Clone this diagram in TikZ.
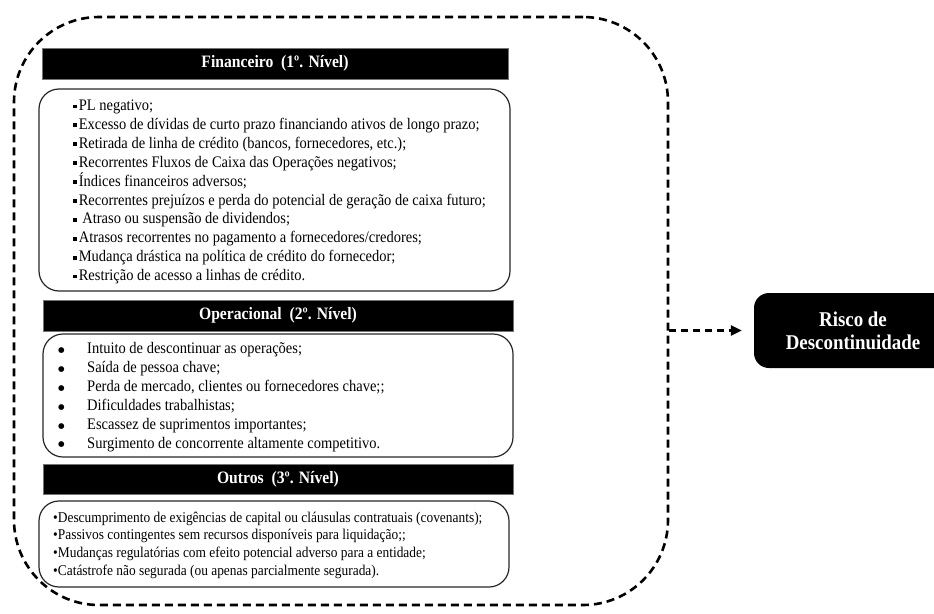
\documentclass[tikz,border=0pt]{standalone}
\usepackage{fontspec}
\setmainfont[FakeStretch=0.9]{Liberation Serif}
\newfontfamily\dejavu{DejaVu Sans}
\usetikzlibrary{arrows.meta}
\newcommand{\sqb}{\rule[2.2pt]{3.8pt}{3.8pt}\hspace{1.8pt}}
\newcommand{\rb}{\makebox[30pt][l]{\hspace{1pt}{\dejavu\fontsize{7.5}{8}\selectfont\raisebox{1.2pt}{●}}}}
\newcommand{\ob}{•}
\begin{document}
\begin{tikzpicture}[x=1pt,y=-1pt,
  titlebar/.style={draw=black!55,line width=0.8pt,fill=black,text=white,font=\fontsize{17.4}{18}\selectfont\bfseries,inner sep=0pt},
  contentbox/.style={draw=black!85,line width=1.2pt,rounded corners=20pt,inner sep=0pt},
  itemtext/.style={align=left,inner sep=0pt,anchor=west,font=\fontsize{16.1}{18.9}\selectfont},
  outerbox/.style={draw=black,line width=2.6pt,dash pattern=on 8pt off 5pt,rounded corners=85pt,inner sep=0pt},
  riskbox/.style={fill=black,text=white,rounded corners=15pt,align=center,inner sep=0pt,font=\fontsize{21}{23}\selectfont\bfseries},
  link/.style={line width=2.4pt,dash pattern=on 7pt off 5pt,-{Triangle[length=11pt,width=10pt]}}
]
\useasboundingbox (0,0) rectangle (934,613);

\node[outerbox,minimum width=654pt,minimum height=588pt] (outer) at (341,311) {};

\node[titlebar,minimum width=466pt,minimum height=31pt] (t1) at (275,63.5) {Financeiro\ \ (1º. Nível)};
\node[contentbox,minimum width=471pt,minimum height=202pt] (b1) at (274.5,190) {};
\node[itemtext] (x1) at (73,192) {\sqb PL negativo;\\
\sqb Excesso de dívidas de curto prazo financiando ativos de longo prazo;\\
\sqb Retirada de linha de crédito (bancos, fornecedores, etc.);\\
\sqb Recorrentes Fluxos de Caixa das Operações negativos;\\
\sqb Índices financeiros adversos;\\
\sqb Recorrentes prejuízos e perda do potencial de geração de caixa futuro;\\
\sqb\ Atraso ou suspensão de dividendos;\\
\sqb Atrasos recorrentes no pagamento a fornecedores/credores;\\
\sqb Mudança drástica na política de crédito do fornecedor;\\
\sqb Restrição de acesso a linhas de crédito.};

\node[titlebar,minimum width=470pt,minimum height=31pt] (t2) at (278,315.5) {Operacional\ \ (2º. Nível)};
\node[contentbox,minimum width=470pt,minimum height=123pt] (b2) at (278,395.5) {};
\node[itemtext] (x2) at (57,397) {\rb Intuito de descontinuar as operações;\\
\rb Saída de pessoa chave;\\
\rb Perda de mercado, clientes ou fornecedores chave;;\\
\rb Dificuldades trabalhistas;\\
\rb Escassez de suprimentos importantes;\\
\rb Surgimento de concorrente altamente competitivo.};

\node[titlebar,minimum width=470pt,minimum height=30pt] (t3) at (278,479) {Outros\ \ (3º. Nível)};
\node[contentbox,minimum width=470pt,minimum height=86pt] (b3) at (274,544) {};
\node[itemtext,font=\fontsize{14.9}{17.7}\selectfont] (x3) at (53,545) {\ob Descumprimento de exigências de capital ou cláusulas contratuais (covenants);\\
\ob Passivos contingentes sem recursos disponíveis para liquidação;;\\
\ob Mudanças regulatórias com efeito potencial adverso para a entidade;\\
\ob Catástrofe não segurada (ou apenas parcialmente segurada).};

\node[riskbox,minimum width=198pt,minimum height=75pt] (risk) at (853,330.5) {Risco de\\Descontinuidade};

\draw[link,shorten >=12pt] (outer.east |- risk.west) -- (risk.west);
\end{tikzpicture}
\end{document}
